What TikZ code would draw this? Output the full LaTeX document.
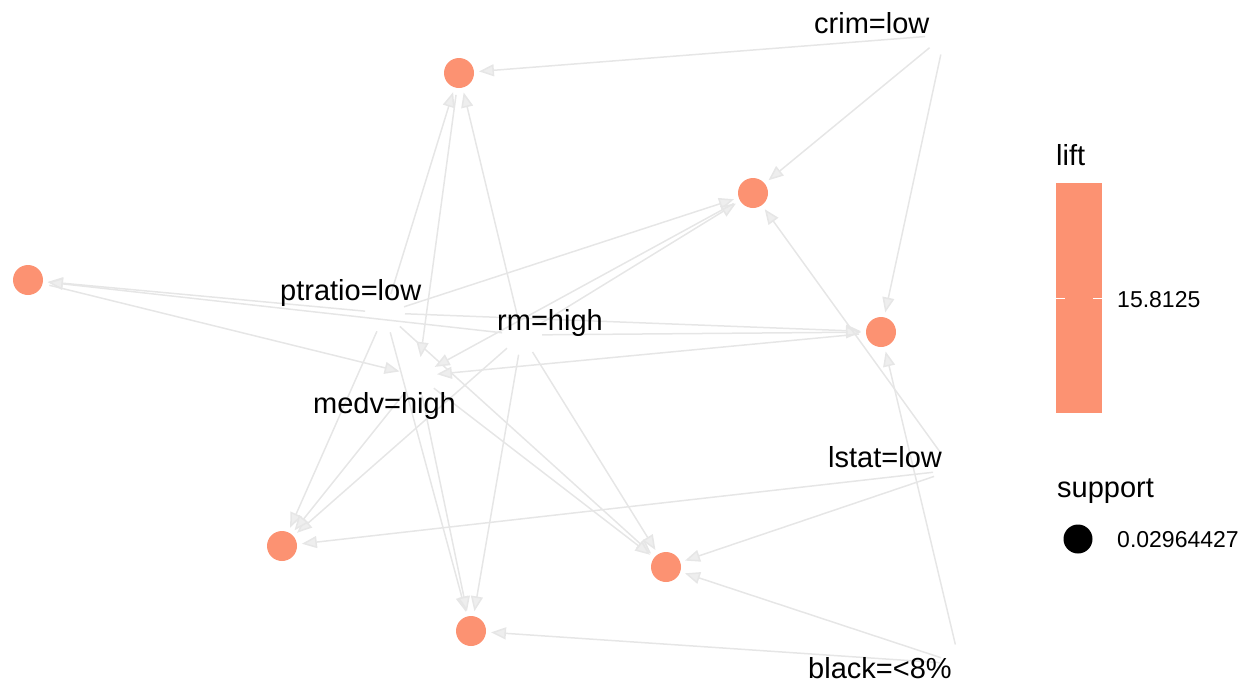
\documentclass[tikz,border=0pt]{standalone}
\usepackage{fontspec}
\setmainfont{Liberation Sans}
\usetikzlibrary{arrows.meta}
\definecolor{rulecol}{RGB}{252,146,114}
\definecolor{edgecol}{RGB}{230,230,230}
\definecolor{tipfill}{RGB}{238,238,238}
\tikzset{
 rulenode/.style={circle, fill=rulecol, minimum size=30pt, inner sep=0pt, outer sep=0pt},
 itemlabel/.style={anchor=base west, inner sep=0pt, font=\fontsize{29}{34}\selectfont},
 edgetip/.style={-{Triangle[length=15pt,width=12pt,fill=tipfill]}},
 lhs/.style={draw=edgecol, line width=1.5pt, edgetip, shorten <=20pt, shorten >=5pt},
 rhs/.style={draw=edgecol, line width=1.5pt, edgetip, shorten <=7pt, shorten >=19pt},
 legtitle/.style={anchor=base west, inner sep=0pt, font=\fontsize{29}{34}\selectfont},
 legtext/.style={anchor=base west, inner sep=0pt, font=\fontsize{23}{28}\selectfont},
}
\begin{document}
\begin{tikzpicture}[x=1pt,y=-1pt]
\useasboundingbox (0,0) rectangle (1242,683);
% item positions
\coordinate (crim) at (945,35);
\coordinate (ptratio) at (385,313);
\coordinate (rm) at (522,335);
\coordinate (medv) at (418,376);
\coordinate (lstat) at (953,470);
\coordinate (black) at (960,664);
% rule nodes
\node[rulenode] (R1) at (459,73) {};
\node[rulenode] (R2) at (753,193) {};
\node[rulenode] (R3) at (28,280) {};
\node[rulenode] (R4) at (881,332) {};
\node[rulenode] (R5) at (282,546) {};
\node[rulenode] (R6) at (666,567) {};
\node[rulenode] (R7) at (471,631) {};
% edges
\foreach \r in {R1,R2,R4} \draw[lhs] (crim) -- (\r);
\foreach \r in {R1,R2,R3,R4,R5,R6,R7} \draw[lhs] (ptratio) -- (\r);
\foreach \r in {R1,R2,R3,R4,R5,R6,R7} \draw[lhs] (rm) -- (\r);
\foreach \r in {R5,R6,R7} \draw[lhs] (medv) -- (\r);
\foreach \r in {R2,R5,R6} \draw[lhs] (lstat) -- (\r);
\foreach \r in {R4,R6,R7} \draw[lhs] (black) -- (\r);
\foreach \r in {R1,R2,R3,R4} \draw[rhs] (\r) -- (medv);
% item labels
\node[itemlabel] (crimL) at (814,33) {crim=low};
\node[itemlabel] (ptratioL) at (280,300) {ptratio=low};
\node[itemlabel] (rmL) at (497,330) {rm=high};
\node[itemlabel] (medvL) at (313,413) {medv=high};
\node[itemlabel] (lstatL) at (828,467) {lstat=low};
\node[itemlabel] (blackL) at (808,678) {black=<8\%};
% legend
\node[legtitle] (liftT) at (1056,165) {lift};
\fill[rulecol] (1056,183) rectangle (1102,413);
\draw[white, line width=1pt] (1056,298) -- (1065,298) (1093,298) -- (1102,298);
\node[legtext] (liftV) at (1117,307) {15.8125};
\node[legtitle] (suppT) at (1057,497) {support};
\node[circle, fill=black, minimum size=29pt, inner sep=0pt] (suppdot) at (1078,539) {};
\node[legtext] (suppV) at (1117,547) {0.02964427};
\end{tikzpicture}
\end{document}
